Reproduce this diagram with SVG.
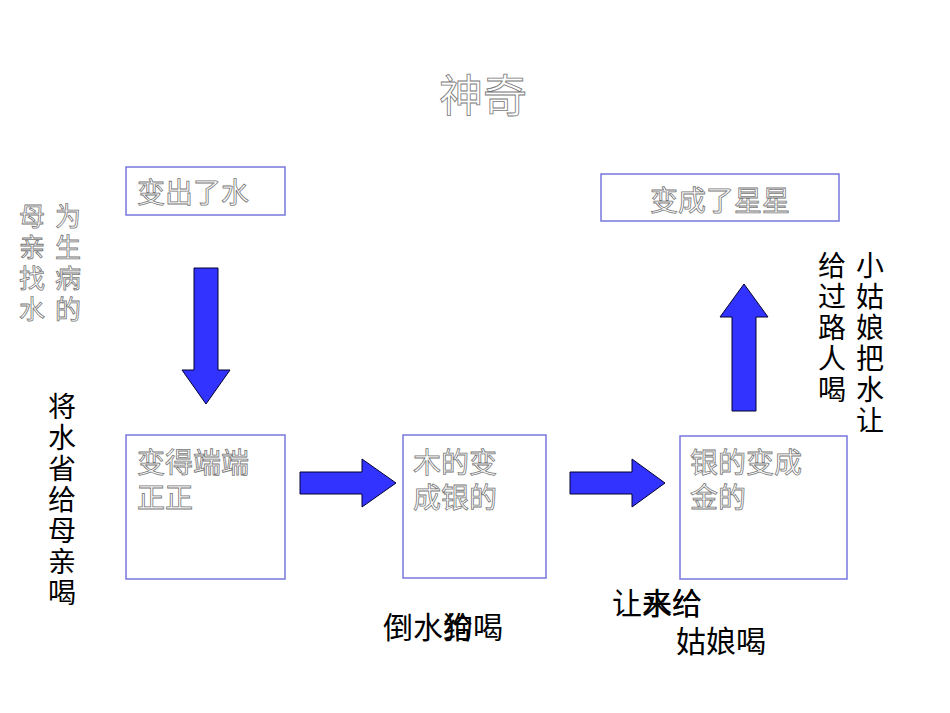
<svg xmlns="http://www.w3.org/2000/svg" width="950" height="713" viewBox="0 0 950 713">
<style>
.box{fill:#fff;stroke:#7777dd;stroke-width:1.5}
.ol{fill:#fff;stroke:#777;stroke-width:0.8;font-family:"Noto Sans CJK SC",sans-serif}
.bk{fill:#000;font-family:"Noto Sans CJK SC",sans-serif;font-size:28px}
.bb{fill:#000;font-family:"Noto Sans CJK SC",sans-serif;font-size:30px}
.ar{fill:#3333ff;stroke:#000033;stroke-width:1}
</style>
<rect width="950" height="713" fill="#fff"/>
<text class="ol" x="483" y="112" font-size="44" text-anchor="middle">神奇</text>
<g id="n1"><rect class="box" x="126" y="167" width="159" height="48"/><text class="ol" x="137" y="203" font-size="28">变出了水</text></g>
<g id="n2"><rect class="box" x="601" y="174" width="238" height="47"/><text class="ol" x="650" y="211" font-size="28">变成了星星</text></g>
<g id="n3"><rect class="box" x="126" y="435" width="159" height="144"/><text class="ol" x="137" y="473" font-size="28">变得端端</text><text class="ol" x="137" y="508" font-size="28">正正</text></g>
<g id="n4"><rect class="box" x="403" y="435" width="143" height="143"/><text class="ol" x="413" y="473" font-size="28">木的变</text><text class="ol" x="413" y="508" font-size="28">成银的</text></g>
<g id="n5"><rect class="box" x="680" y="436" width="167" height="143"/><text class="ol" x="690" y="473" font-size="28">银的变成</text><text class="ol" x="690" y="508" font-size="28">金的</text></g>
<g id="labels">
<g class="ol" font-size="26" text-anchor="middle">
<text x="68" y="226">为</text><text x="68" y="257">生</text><text x="68" y="288">病</text><text x="68" y="319">的</text>
<text x="32" y="226">母</text><text x="32" y="257">亲</text><text x="32" y="288">找</text><text x="32" y="319">水</text>
</g>
<g class="bk" text-anchor="middle">
<text x="62" y="417">将</text><text x="62" y="448">水</text><text x="62" y="479">省</text><text x="62" y="510">给</text><text x="62" y="541">母</text><text x="62" y="572">亲</text><text x="62" y="603">喝</text>
<text x="870" y="276">小</text><text x="870" y="307">姑</text><text x="870" y="338">娘</text><text x="870" y="369">把</text><text x="870" y="400">水</text><text x="870" y="431">让</text>
<text x="832" y="276">给</text><text x="832" y="307">过</text><text x="832" y="338">路</text><text x="832" y="369">人</text><text x="832" y="400">喝</text>
</g>
<text class="bb" x="383" y="638">倒水给喝</text><text class="bb" x="443" y="638">狗</text>
<text class="bb" x="612" y="614">让水给</text><text class="bb" x="642" y="614">来给</text>
<text class="bb" x="676" y="652">姑娘喝</text>
</g>
<g id="connectors">
<polygon class="ar" points="194,268 218,268 218,370 230,370 206,404 182,370 194,370"/>
<polygon class="ar" points="300,472 362,472 362,459 396,483 362,507 362,494 300,494"/>
<polygon class="ar" points="570,472 632,472 632,459 665,483 632,507 632,494 570,494"/>
<polygon class="ar" points="732,411 756,411 756,317 768,317 744,284 720,317 732,317"/>
</g>
</svg>
